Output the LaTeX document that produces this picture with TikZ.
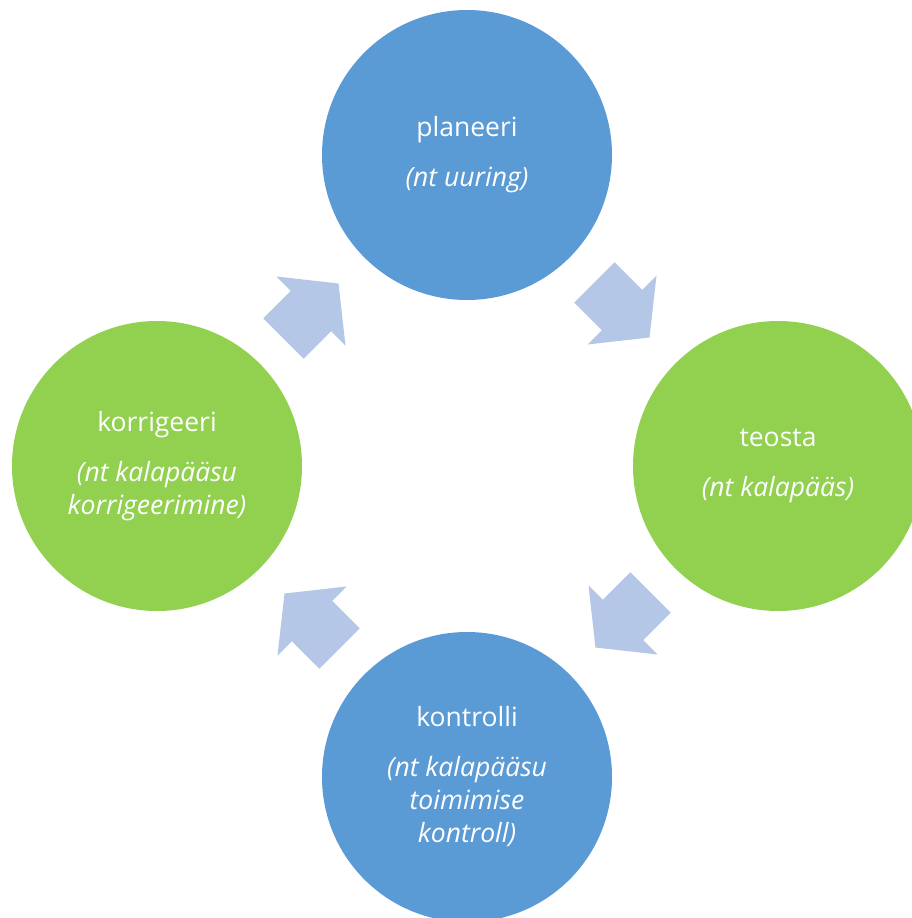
\documentclass[tikz,border=0pt]{standalone}
\usepackage{fontspec}
\setmainfont{Open Sans}
\definecolor{cblue}{HTML}{5B9BD5}
\definecolor{cgreen}{HTML}{92D050}
\definecolor{carrow}{HTML}{B4C7E7}
\tikzset{
  stage/.style={circle, minimum size=290pt, inner sep=0pt, text=white, align=center,
    font=\fontsize{26.5}{33}\selectfont},
  bluestage/.style={stage, fill=cblue},
  greenstage/.style={stage, fill=cgreen},
  cyclearrow/.pic={
    \fill[carrow] (-38.9,-28.6) -- (0,-28.6) -- (0,-48.8) -- (38.9,0) -- (0,48.8) -- (0,28.6) -- (-38.9,28.6) -- cycle;
  }
}
\begin{document}
\begin{tikzpicture}[x=1pt,y=-1pt]
\useasboundingbox (0,0) rectangle (912,918);
\clip (0,0) rectangle (912,918);
\node[bluestage] (plan) at (467,155) {planeeri\\[17pt]\textit{(nt uuring)}};
\node[greenstage] (teos) at (778,466) {teosta\\[17pt]\textit{(nt kalapääs)}};
\node[bluestage] (kontr) at (467,777) {kontrolli\\[17pt]\textit{(nt kalapääsu}\\\textit{toimimise}\\\textit{kontroll)}};
\node[greenstage] (korr) at (157,466) {korrigeeri\\[17pt]\textit{(nt kalapääsu}\\\textit{korrigeerimine)}};
\pic[rotate=-45] at (622,310) {cyclearrow};
\pic[rotate=-135] at (623,620) {cyclearrow};
\pic[rotate=135] at (312,621) {cyclearrow};
\pic[rotate=45] at (311,311) {cyclearrow};
\end{tikzpicture}
\end{document}
